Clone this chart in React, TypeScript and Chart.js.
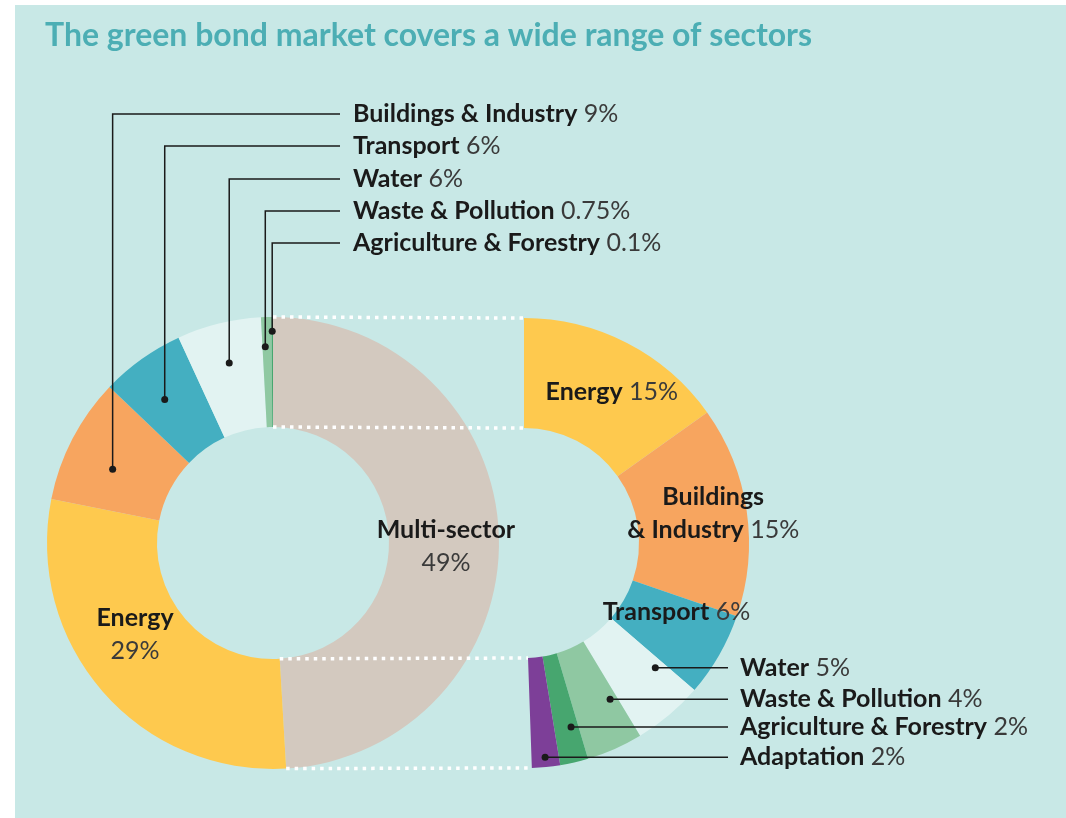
import React, { useEffect, useRef } from "react";
import { Chart, registerables } from "chart.js";

Chart.register(...registerables);

// ---------- data ----------
const TITLE = "The green bond market covers a wide range of sectors";

const overallSectors = [
  "Multi-sector",
  "Energy",
  "Buildings & Industry",
  "Transport",
  "Water",
  "Waste & Pollution",
  "Agriculture & Forestry",
];
const overallShares = [49, 29, 9, 6, 6, 0.75, 0.1];
const overallShareLabels = ["49%", "29%", "9%", "6%", "6%", "0.75%", "0.1%"];

const multiSectors = [
  "Energy",
  "Buildings & Industry",
  "Transport",
  "Water",
  "Waste & Pollution",
  "Agriculture & Forestry",
  "Adaptation",
];
const multiShares = [15, 15, 6, 5, 4, 2, 2];
const multiShareLabels = ["15%", "15%", "6%", "5%", "4%", "2%", "2%"];

// ---------- styles ----------
const BG = "#c8e8e6";
const TITLE_COLOR = "#4caeb4";
const DARK = "#1a1a1a";
const GREY = "#3a3a3a";
const FONT_FAMILY = "Lato, 'Noto Sans', sans-serif";
const LABEL_SIZE = 25;
const BOLD = `700 ${LABEL_SIZE}px ${FONT_FAMILY}`;
const REG = `400 ${LABEL_SIZE}px ${FONT_FAMILY}`;

const overallColors = ["#d3c9bf", "#fec94e", "#f7a55f", "#44afc1", "#e2f3f2", "#8fc8a2", "#47a66f"];
const multiColors = ["#fec94e", "#f7a55f", "#44afc1", "#e2f3f2", "#8fc8a2", "#47a66f", "#7d3f98"];

// ring geometry (pixels)
const LEFT_CENTER = { x: 273, y: 543 };
const LEFT_R = 226;
const LEFT_CUT = 116;
const RIGHT_LEFT_EDGE = 524;
const RIGHT_R = 225;
const RIGHT_CUT = 115;
const RIGHT_SWEEP = 178;
const W = 1066;
const H = 818;

// label layout
const leftInRing = [
  { index: 0, dx: 2, dy: 8 },
  { index: 1, dx: -9, dy: -21 },
];
const leftCallouts = [
  { index: 2, rowY: 114, f: 0.415, g: 0.55 },
  { index: 3, rowY: 146, f: 0.43, g: 0.58 },
  { index: 4, rowY: 179, f: 0.51, g: 0.63 },
  { index: 5, rowY: 211, f: 0.3, g: 0.73 },
  { index: 6, rowY: 243, f: 0.4, g: 0.87 },
];
const LEFT_LINE_END = 340;
const LEFT_TEXT_X = 353;

const rightInRing = [
  { index: 0, dx: 10, dy: 0, split: false },
  { index: 1, dx: 21, dy: -5, split: true },
  { index: 2, dx: 5, dy: -16, split: false },
];
const rightCallouts = [
  { index: 3, f: 0.15, g: 0.6 },
  { index: 4, f: 0.15, g: 0.575 },
  { index: 5, f: 0.3, g: 0.68 },
  { index: 6, f: 0.5, g: 0.91 },
];
const RIGHT_LINE_END = 728;
const RIGHT_TEXT_X = 740;

type Part = [string, boolean];

function drawRich(ctx: CanvasRenderingContext2D, parts: Part[], x: number, y: number, align: "left" | "center") {
  const widths = parts.map(([t, b]) => {
    ctx.font = b ? BOLD : REG;
    return ctx.measureText(t).width;
  });
  const total = widths.reduce((a, b) => a + b, 0);
  let cx = align === "center" ? x - total / 2 : x;
  ctx.textAlign = "left";
  ctx.textBaseline = "middle";
  parts.forEach(([t, b], i) => {
    ctx.font = b ? BOLD : REG;
    ctx.fillStyle = b ? DARK : GREY;
    ctx.fillText(t, cx, y);
    cx += widths[i];
  });
}

function arcProps(el: any) {
  return el.getProps(["x", "y", "startAngle", "endAngle", "innerRadius", "outerRadius"], true);
}

function arcPoint(p: any, f: number, g: number) {
  const a = p.startAngle + f * (p.endAngle - p.startAngle);
  const r = p.innerRadius + g * (p.outerRadius - p.innerRadius);
  return { x: p.x + r * Math.cos(a), y: p.y + r * Math.sin(a) };
}

function dot(ctx: CanvasRenderingContext2D, x: number, y: number) {
  ctx.beginPath();
  ctx.fillStyle = DARK;
  ctx.arc(x, y, 3.5, 0, Math.PI * 2);
  ctx.fill();
}

export default function App() {
  const leftRef = useRef<HTMLCanvasElement>(null);
  const rightRef = useRef<HTMLCanvasElement>(null);

  useEffect(() => {
    document.body.style.margin = "0";
    if (!leftRef.current || !rightRef.current) return;

    const leftPlugin = {
      id: "leftAnnotations",
      afterDatasetsDraw(chart: any) {
        const ctx: CanvasRenderingContext2D = chart.ctx;
        const meta = chart.getDatasetMeta(0);
        ctx.save();
        // title
        ctx.font = `700 32px ${FONT_FAMILY}`;
        ctx.fillStyle = TITLE_COLOR;
        ctx.textAlign = "left";
        ctx.textBaseline = "alphabetic";
        ctx.fillText(TITLE, 45, 46);

        // in-ring labels
        leftInRing.forEach(({ index, dx, dy }) => {
          const pos = meta.data[index].tooltipPosition(true);
          const cx = pos.x + dx;
          const cy = pos.y + dy;
          drawRich(ctx, [[overallSectors[index], true]], cx, cy - 16.5, "center");
          drawRich(ctx, [[overallShareLabels[index], false]], cx, cy + 16.5, "center");
        });

        // callouts
        ctx.lineWidth = 1.5;
        ctx.strokeStyle = DARK;
        leftCallouts.forEach(({ index, rowY, f, g }) => {
          const p = arcPoint(arcProps(meta.data[index]), f, g);
          ctx.beginPath();
          ctx.moveTo(p.x, p.y);
          ctx.lineTo(p.x, rowY);
          ctx.lineTo(LEFT_LINE_END, rowY);
          ctx.stroke();
          dot(ctx, p.x, p.y);
          drawRich(
            ctx,
            [
              [overallSectors[index], true],
              [" " + overallShareLabels[index], false],
            ],
            LEFT_TEXT_X,
            rowY,
            "left"
          );
        });
        ctx.restore();
      },
    };

    const left = new Chart(leftRef.current, {
      type: "doughnut",
      data: {
        labels: overallSectors,
        datasets: [
          {
            data: overallShares,
            backgroundColor: overallColors,
            borderWidth: 0,
            clip: false as any,
          },
        ],
      },
      options: {
        responsive: false,
        animation: false,
        radius: LEFT_R,
        cutout: `${(LEFT_CUT / LEFT_R) * 100}%`,
        rotation: 0,
        layout: {
          padding: {
            left: 0,
            right: W - 2 * LEFT_CENTER.x,
            top: 2 * LEFT_CENTER.y - H,
            bottom: 0,
          },
        },
        plugins: { legend: { display: false }, tooltip: { enabled: false } },
      } as any,
      plugins: [leftPlugin],
    });

    const rightPlugin = {
      id: "rightAnnotations",
      afterDatasetsDraw(chart: any) {
        const ctx: CanvasRenderingContext2D = chart.ctx;
        const meta = chart.getDatasetMeta(0);
        const lmeta = left.getDatasetMeta(0);
        ctx.save();

        // dotted connectors
        const multi = arcProps(lmeta.data[0]);
        const first = arcProps(meta.data[0]);
        const last = arcProps(meta.data[meta.data.length - 1]);
        const pts = [
          [arcPoint(multi, 0, 1), arcPoint(first, 0, 1)],
          [arcPoint(multi, 0, 0), arcPoint(first, 0, 0)],
          [arcPoint(multi, 1, 0), arcPoint(last, 1, 0)],
          [arcPoint(multi, 1, 1), arcPoint(last, 1, 1)],
        ];
        ctx.strokeStyle = "#ffffff";
        ctx.lineWidth = 3.5;
        ctx.setLineDash([3.5, 5]);
        pts.forEach(([a, b]) => {
          ctx.beginPath();
          ctx.moveTo(a.x, a.y);
          ctx.lineTo(b.x, b.y);
          ctx.stroke();
        });
        ctx.setLineDash([]);

        // in-ring labels
        rightInRing.forEach(({ index, dx, dy, split }) => {
          const pos = meta.data[index].tooltipPosition(true);
          const cx = pos.x + dx;
          const cy = pos.y + dy;
          if (split) {
            const name = multiSectors[index];
            const cut = name.indexOf(" &");
            drawRich(ctx, [[name.slice(0, cut), true]], cx, cy - 16.5, "center");
            drawRich(
              ctx,
              [
                [name.slice(cut + 1), true],
                [" " + multiShareLabels[index], false],
              ],
              cx,
              cy + 16.5,
              "center"
            );
          } else {
            drawRich(
              ctx,
              [
                [multiSectors[index], true],
                [" " + multiShareLabels[index], false],
              ],
              cx,
              cy,
              "center"
            );
          }
        });

        // callouts
        ctx.lineWidth = 1.5;
        ctx.strokeStyle = DARK;
        rightCallouts.forEach(({ index, f, g }) => {
          const p = arcPoint(arcProps(meta.data[index]), f, g);
          ctx.beginPath();
          ctx.moveTo(p.x, p.y);
          ctx.lineTo(RIGHT_LINE_END, p.y);
          ctx.stroke();
          dot(ctx, p.x, p.y);
          drawRich(
            ctx,
            [
              [multiSectors[index], true],
              [" " + multiShareLabels[index], false],
            ],
            RIGHT_TEXT_X,
            p.y,
            "left"
          );
        });
        ctx.restore();
      },
    };

    const right = new Chart(rightRef.current, {
      type: "doughnut",
      data: {
        labels: multiSectors,
        datasets: [
          {
            data: multiShares,
            backgroundColor: multiColors,
            borderWidth: 0,
            clip: false as any,
          },
        ],
      },
      options: {
        responsive: false,
        animation: false,
        radius: RIGHT_R,
        cutout: `${(RIGHT_CUT / RIGHT_R) * 100}%`,
        rotation: 0,
        circumference: RIGHT_SWEEP,
        layout: {
          padding: {
            left: RIGHT_LEFT_EDGE,
            right: W - RIGHT_LEFT_EDGE - RIGHT_R,
            top: 2 * LEFT_CENTER.y - H,
            bottom: 0,
          },
        },
        plugins: { legend: { display: false }, tooltip: { enabled: false } },
      } as any,
      plugins: [rightPlugin],
    });

    return () => {
      right.destroy();
      left.destroy();
    };
  }, []);

  return (
    <div
      style={{
        position: "absolute",
        left: 0,
        top: 0,
        width: W,
        height: H,
        background: "#ffffff",
        overflow: "hidden",
      }}
    >
      <div style={{ position: "absolute", left: 15, top: 5, right: 0, bottom: 0, background: BG }} />
      <canvas ref={leftRef} width={W} height={H} style={{ position: "absolute", left: 0, top: 0 }} />
      <canvas ref={rightRef} width={W} height={H} style={{ position: "absolute", left: 0, top: 0 }} />
    </div>
  );
}
